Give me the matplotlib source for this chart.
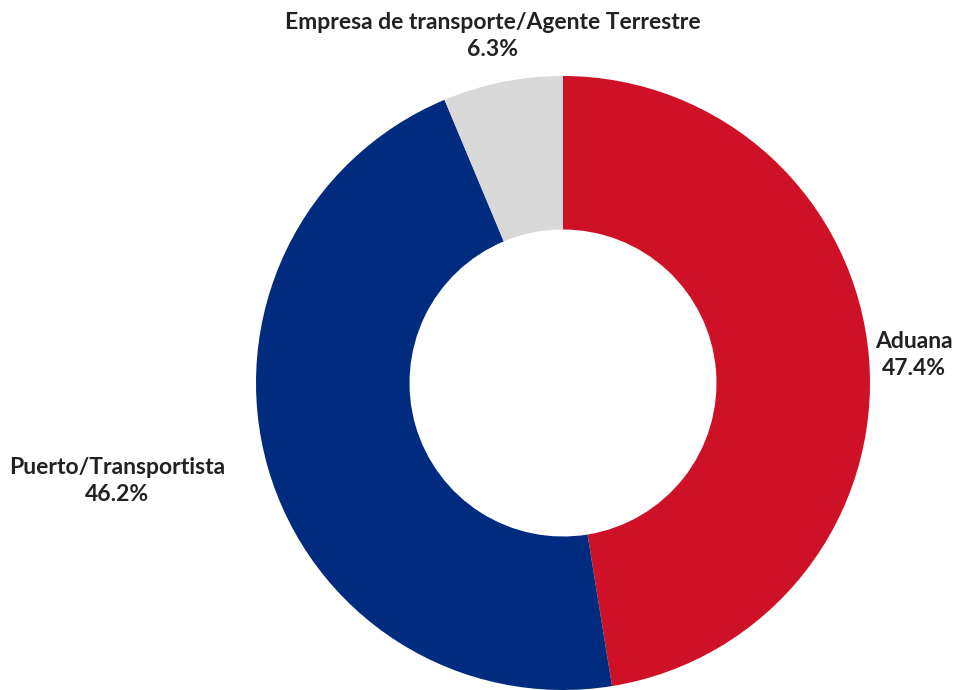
import matplotlib
matplotlib.use("Agg")
import matplotlib.pyplot as plt

categories = ["Aduana", "Puerto/Transportista", "Empresa de transporte/Agente Terrestre"]
values = [47.4, 46.2, 6.3]
colors = ["#CE1126", "#002B7F", "#D9D9D9"]

W, H = 960, 690
fig = plt.figure(figsize=(W / 100, H / 100), dpi=100)
ax = fig.add_axes([0, 0, 1, 1])

cx, cy, R = 563, H - 383, 307
ax.pie(values, colors=colors, startangle=90, counterclock=False,
       radius=R, center=(cx, cy), frame=True,
       wedgeprops=dict(width=R * 0.5, linewidth=0))
ax.set_xlim(0, W)
ax.set_ylim(0, H)
ax.axis("off")

font = dict(family=["Lato", "DejaVu Sans"], fontweight="bold", color="#222222",
            fontsize=16.5, ha="center", va="center", linespacing=1.32)
label_pos = [(914, H - 355), (117, H - 481), (493, H - 36)]
for name, v, (x, y) in zip(categories, values, label_pos):
    ax.text(x, y, f"{name}\n{v:.1f}%", **font)

fig.savefig("out.png", dpi=100)
